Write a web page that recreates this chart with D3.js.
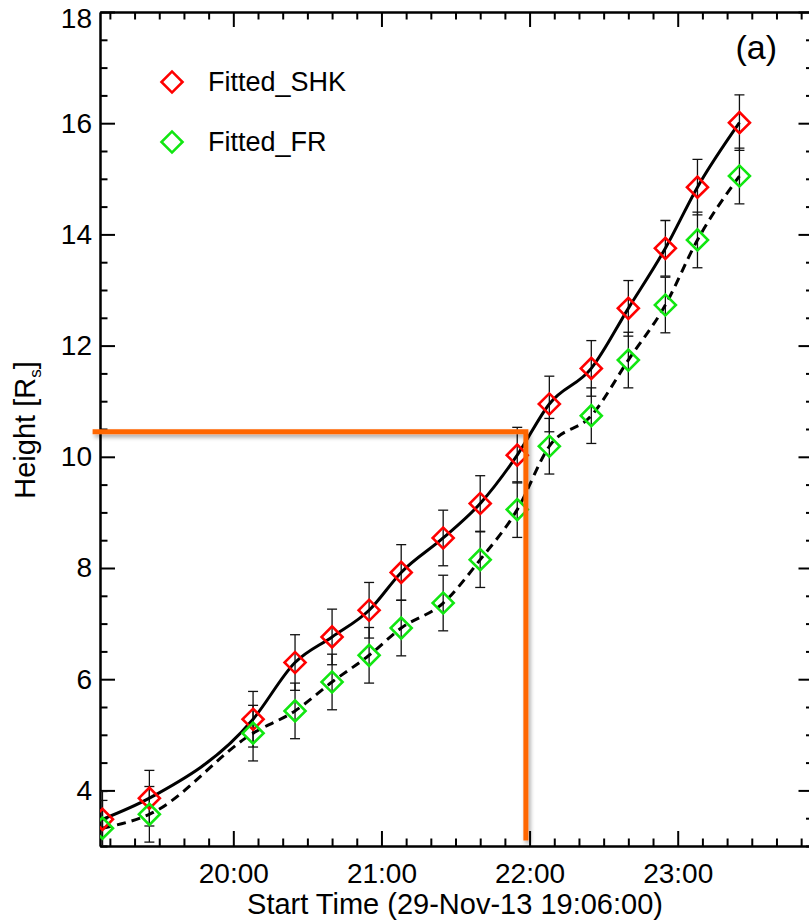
<!DOCTYPE html>
<html>
<head>
<meta charset="utf-8">
<script src="https://cdn.jsdelivr.net/npm/d3@7"></script>
<style>
  body { margin: 0; background: #fff; }
  svg { display: block; font-family: "Liberation Sans", Arial, sans-serif; }
</style>
</head>
<body>
<div class="chart"></div>
<script>
// observation times (HH:MM), start time 19:06
const times = ["19:07", "19:26", "20:08", "20:25", "20:40", "20:55", "21:08", "21:25",
               "21:40", "21:55", "22:08", "22:25", "22:40", "22:55", "23:08", "23:25"];
const shkHeight = [3.48, 3.86, 5.28, 6.30, 6.76, 7.24, 7.92, 8.54,
                   9.16, 10.03, 10.95, 11.59, 12.67, 13.75, 14.85, 16.01];
const frHeight = [3.32, 3.57, 5.03, 5.43, 5.95, 6.43, 6.92, 7.37,
                  8.15, 9.05, 10.19, 10.74, 11.74, 12.73, 13.90, 15.05];
const shkErr = [0.5, 0.5, 0.5, 0.5, 0.5, 0.5, 0.5, 0.5, 0.5, 0.5, 0.5, 0.5, 0.5, 0.5, 0.5, 0.5];
const frErr = [0.5, 0.5, 0.5, 0.5, 0.5, 0.5, 0.5, 0.5, 0.5, 0.5, 0.5, 0.5, 0.5, 0.5, 0.5, 0.5];

const xTickLabels = ["20:00", "21:00", "22:00", "23:00"];
const yTicks = [4, 6, 8, 10, 12, 14, 16, 18];

// orange marker (time in minutes after start, height)
const markMinute = 172.5;
const markHeight = 10.45;

const startTime = "19:06";
const endMinute = 289;

function toMin(s) {
    const [h, m] = s.split(":").map(Number);
    const [h0, m0] = startTime.split(":").map(Number);
    return (h - h0) * 60 + (m - m0);
}

const outWidth = 809, outHeight = 921;
const pLeft = 100, pRight = 813.5, pTop = 12, pBottom = 846;

const svg = d3.select(".chart").append("svg")
    .attr("width", outWidth)
    .attr("height", outHeight);

svg.append("rect").attr("width", outWidth).attr("height", outHeight).attr("fill", "#fff");

const defs = svg.append("defs");
defs.append("clipPath").attr("id", "plot")
    .append("rect")
    .attr("x", pLeft).attr("y", pTop)
    .attr("width", pRight - pLeft).attr("height", pBottom - pTop);
const f = defs.append("filter").attr("id", "shadow")
    .attr("x", "-10%").attr("y", "-10%").attr("width", "130%").attr("height", "130%");
f.append("feDropShadow")
    .attr("dx", 2).attr("dy", 3).attr("stdDeviation", 2)
    .attr("flood-color", "#000").attr("flood-opacity", 0.35);

let xScale = d3.scaleLinear().domain([0, endMinute]).range([pLeft, pRight]);
let yScale = d3.scaleLinear().domain([3, 18]).range([pBottom, pTop]);

const majorX = xTickLabels.map(toMin);
const minorX = d3.range(4, endMinute, 10).filter(m => !majorX.includes(m));
const minorY = d3.range(3, 18.01, 0.5).filter(v => !yTicks.includes(v));

function styleAxis(g) {
    g.selectAll("path, line").attr("stroke", "#000").attr("stroke-width", 2);
    g.selectAll("text").attr("fill", "#000").attr("font-size", 28)
        .attr("font-family", "'Liberation Sans', Arial, sans-serif");
}

// bottom
svg.append("g").attr("transform", `translate(0,${pBottom})`)
    .call(d3.axisBottom(xScale).tickValues(majorX).tickFormat((d, i) => xTickLabels[i])
        .tickSizeInner(-15).tickSizeOuter(0).tickPadding(17))
    .call(styleAxis);
svg.append("g").attr("transform", `translate(0,${pBottom})`)
    .call(d3.axisBottom(xScale).tickValues(minorX).tickFormat("")
        .tickSizeInner(-7.5).tickSizeOuter(0))
    .call(styleAxis);
// top
svg.append("g").attr("transform", `translate(0,${pTop})`)
    .call(d3.axisTop(xScale).tickValues(majorX).tickFormat("")
        .tickSizeInner(-15).tickSizeOuter(0))
    .call(styleAxis);
svg.append("g").attr("transform", `translate(0,${pTop})`)
    .call(d3.axisTop(xScale).tickValues(minorX).tickFormat("")
        .tickSizeInner(-7.5).tickSizeOuter(0))
    .call(styleAxis);
// left
svg.append("g").attr("transform", `translate(${pLeft},0)`)
    .call(d3.axisLeft(yScale).tickValues(yTicks).tickFormat(d3.format("d"))
        .tickSizeInner(-15).tickSizeOuter(0).tickPadding(8))
    .call(styleAxis)
    .call(g => g.selectAll(".tick text").filter(d => d === 18).attr("dy", "0.55em"));
svg.append("g").attr("transform", `translate(${pLeft},0)`)
    .call(d3.axisLeft(yScale).tickValues(minorY).tickFormat("")
        .tickSizeInner(-7.5).tickSizeOuter(0))
    .call(styleAxis);
// right
svg.append("g").attr("transform", `translate(${pRight},0)`)
    .call(d3.axisRight(yScale).tickValues(yTicks).tickFormat("")
        .tickSizeInner(-15).tickSizeOuter(0))
    .call(styleAxis);
svg.append("g").attr("transform", `translate(${pRight},0)`)
    .call(d3.axisRight(yScale).tickValues(minorY).tickFormat("")
        .tickSizeInner(-7.5).tickSizeOuter(0))
    .call(styleAxis);

// axis titles
svg.append("text")
    .attr("x", 455).attr("y", 914)
    .attr("text-anchor", "middle")
    .attr("font-size", 29)
    .text("Start Time (29-Nov-13 19:06:00)");

const yt = svg.append("text")
    .attr("transform", "translate(35,430) rotate(-90)")
    .attr("text-anchor", "middle")
    .attr("font-size", 29);
yt.append("tspan").text("Height [R");
yt.append("tspan").attr("font-size", 17).attr("dy", 6).text("s");
yt.append("tspan").attr("dy", -6).text("]");

svg.append("text")
    .attr("x", 777).attr("y", 59)
    .attr("text-anchor", "end")
    .attr("font-size", 34)
    .text("(a)");

// data
const shkData = times.map((t, i) => ({ m: toMin(t), h: shkHeight[i], e: shkErr[i] }));
const frData = times.map((t, i) => ({ m: toMin(t), h: frHeight[i], e: frErr[i] }));

const plot = svg.append("g").attr("clip-path", "url(#plot)");

function errorBars(data) {
    const g = plot.append("g").attr("stroke", "#111").attr("stroke-width", 1.3);
    g.selectAll("line.v").data(data).enter().append("line")
        .attr("x1", d => xScale(d.m)).attr("x2", d => xScale(d.m))
        .attr("y1", d => yScale(d.h - d.e)).attr("y2", d => yScale(d.h + d.e));
    [-1, 1].forEach(s => {
        g.selectAll(null).data(data).enter().append("line")
            .attr("x1", d => xScale(d.m) - 5).attr("x2", d => xScale(d.m) + 5)
            .attr("y1", d => yScale(d.h + s * d.e)).attr("y2", d => yScale(d.h + s * d.e));
    });
}
errorBars(shkData);
errorBars(frData);

const line = d3.line()
    .x(d => xScale(d.m))
    .y(d => yScale(d.h))
    .curve(d3.curveMonotoneX);

plot.append("path").datum(shkData)
    .attr("d", line).attr("fill", "none")
    .attr("stroke", "#000").attr("stroke-width", 3);
plot.append("path").datum(frData)
    .attr("d", line).attr("fill", "none")
    .attr("stroke", "#000").attr("stroke-width", 3)
    .attr("stroke-dasharray", "9,6");

const diamond = d3.symbol().type(d3.symbolSquare).size(2 * 10.5 * 10.5);

function markers(data, color) {
    plot.selectAll(null).data(data).enter().append("path")
        .attr("d", diamond)
        .attr("transform", d => `translate(${xScale(d.m)},${yScale(d.h)}) rotate(45)`)
        .attr("fill", "none")
        .attr("stroke", color)
        .attr("stroke-width", 2.6);
}
markers(shkData, "#ff0000");
markers(frData, "#11e611");

// orange marker lines
svg.append("path")
    .attr("d", `M${xScale(-3)},${yScale(markHeight)}H${xScale(markMinute)}V${yScale(3.1)}`)
    .attr("fill", "none")
    .attr("stroke", "#ff6600")
    .attr("stroke-width", 5)
    .attr("filter", "url(#shadow)");

// legend
const legend = [
    { name: "Fitted_SHK", color: "#ff0000", y: 82 },
    { name: "Fitted_FR", color: "#11e611", y: 142 }
];
legend.forEach(l => {
    svg.append("path")
        .attr("d", diamond)
        .attr("transform", `translate(172,${l.y}) rotate(45)`)
        .attr("fill", "none").attr("stroke", l.color).attr("stroke-width", 2.6);
    svg.append("text")
        .attr("x", 208).attr("y", l.y + 9)
        .attr("font-size", 27)
        .text(l.name);
});
</script>
</body>
</html>
